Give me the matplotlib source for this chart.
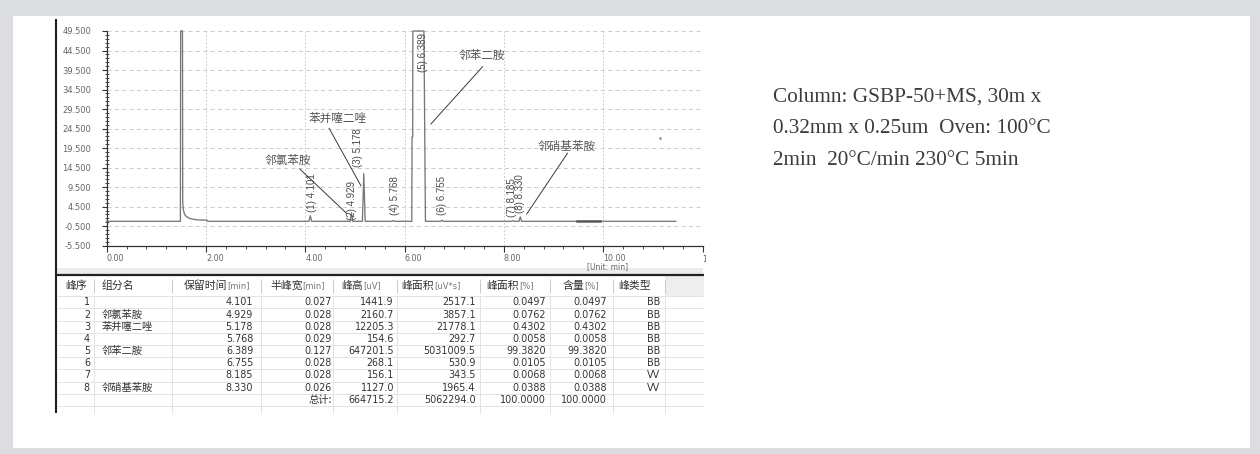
import numpy as np
import matplotlib
matplotlib.use("Agg")
import matplotlib.pyplot as plt
from matplotlib.patches import Rectangle
from matplotlib.ticker import FixedLocator, MultipleLocator, FuncFormatter
from matplotlib.transforms import Bbox

plt.rcParams["lines.scale_dashes"] = False
CJK = ["Noto Sans CJK SC", "DejaVu Sans"]

# ---- integration results ----
peak_no = [1, 2, 3, 4, 5, 6, 7, 8]
component = ["", "邻氯苯胺", "苯并噻二唑", "", "邻苯二胺", "", "", "邻硝基苯胺"]
retention_min = [4.101, 4.929, 5.178, 5.768, 6.389, 6.755, 8.185, 8.330]
half_width_min = [0.027, 0.028, 0.028, 0.029, 0.127, 0.028, 0.028, 0.026]
height_uv = [1441.9, 2160.7, 12205.3, 154.6, 647201.5, 268.1, 156.1, 1127.0]
area_uvs = [2517.1, 3857.1, 21778.1, 292.7, 5031009.5, 530.9, 343.5, 1965.4]
area_pct = [0.0497, 0.0762, 0.4302, 0.0058, 99.3820, 0.0105, 0.0068, 0.0388]
content_pct = [0.0497, 0.0762, 0.4302, 0.0058, 99.3820, 0.0105, 0.0068, 0.0388]
peak_type = ["BB", "BB", "BB", "BB", "BB", "BB", "VV", "VV"]
total_height_uv = 664715.2
total_area_uvs = 5062294.0
total_area_pct = 100.0
total_content_pct = 100.0

# ---- detector trace outside the integrated peaks (min, mV) ----
baseline_mv = 0.75
solvent_time = [0.00, 1.484, 1.489, 1.526, 1.531, 1.545, 1.57, 1.61, 1.67, 1.75, 1.85, 2.02, 2.03, 11.46]
solvent_mv = [0.75, 0.75, 49.5, 49.5, 5.5, 3.6, 2.5, 1.9, 1.5, 1.25, 1.1, 1.05, 0.75, 0.75]
# saturated leading edge of the 邻苯二胺 peak
main_front_time = [6.145, 6.150, 6.163, 6.166]
main_front_mv = [0.0, 21.6, 21.6, 647.2]
main_tail_end = 6.42
noisy_span = [9.47, 9.94]

y_ticks = [-5.5, -0.5, 4.5, 9.5, 14.5, 19.5, 24.5, 29.5, 34.5, 39.5, 44.5, 49.5]
x_ticks = [0, 2, 4, 6, 8, 10, 12]

annotations = [
    ("邻氯苯胺", 2),
    ("苯并噻二唑", 3),
    ("邻苯二胺", 5),
    ("邻硝基苯胺", 8),
]

# ---- figure ----
fig = plt.figure(figsize=(12.6, 4.54), dpi=100)
fig.patch.set_facecolor("#dcdde0")

ov = fig.add_axes([0, 0, 1, 1])
ov.set_xlim(0, 1260)
ov.set_ylim(454, 0)
ov.axis("off")
ov.add_patch(Rectangle((13, 16), 1237, 432, fc="white", ec="none"))

# window frame line on the left
ov.vlines(55.5, 19, 413, color="#1e1e1e", lw=1.5)

# ---- chromatogram axes ----
x0, x1, ytop, ybot = 106.7, 702.5, 31.0, 245.7
ax = fig.add_axes([x0 / 1260, 1 - ybot / 454, (x1 - x0) / 1260, (ybot - ytop) / 454])
ax.set_facecolor("none")
ax.set_xlim(0, 12)
ax.set_ylim(-5.5, 49.5)
for s in ("top", "right"):
    ax.spines[s].set_visible(False)
for s in ("left", "bottom"):
    ax.spines[s].set_color("#333333")
    ax.spines[s].set_linewidth(0.9)

ax.yaxis.set_major_locator(FixedLocator(y_ticks))
ax.yaxis.set_minor_locator(FixedLocator(np.arange(-5.5, 49.6, 1.0)))
ax.yaxis.set_major_formatter(FuncFormatter(lambda v, p: f"{v:.3f}"))
ax.xaxis.set_major_locator(FixedLocator(x_ticks))
ax.xaxis.set_minor_locator(MultipleLocator(0.4))
ax.xaxis.set_major_formatter(FuncFormatter(lambda v, p: "" if v > 11 else f"{v:.2f}"))
ax.tick_params(axis="y", which="major", direction="out", length=3.6, width=0.8,
               color="#333333", pad=7.5, labelsize=6.0, labelcolor="#666666")
ax.tick_params(axis="y", which="minor", direction="inout", length=2.6, width=0.6, color="#333333")
ax.tick_params(axis="x", which="major", direction="out", length=4.2, width=0.8,
               color="#333333", pad=1.5, labelsize=5.8, labelcolor="#666666")
ax.tick_params(axis="x", which="minor", direction="out", length=2.4, width=0.6, color="#333333")
for lab in ax.get_xticklabels():
    lab.set_horizontalalignment("left")

# last axis label is cut by the window edge
clip_lab = ax.text(12, -0.045, "12.00", transform=ax.get_xaxis_transform(), ha="left", va="top",
                   fontsize=5.8, color="#666666")
clip_lab.set_clip_box(Bbox.from_extents(0, 0, 705.5, 454))
clip_lab.set_clip_on(True)

for y in y_ticks[1:]:
    ax.axhline(y, color="#c4c4c4", lw=0.6, ls=(0, (2.9, 2.4)), zorder=0)
for x in x_ticks[1:-1]:
    ax.axvline(x, color="#c4c4c4", lw=0.6, ls=(0, (1.3, 1.3)), zorder=0)

# build the trace: baseline / solvent points plus a triangle for every integrated peak
pts = list(zip(solvent_time, solvent_mv))
for i, rt in enumerate(retention_min):
    h = height_uv[i] / 1000.0
    if i == 4:
        pts += [(t, baseline_mv + v) for t, v in zip(main_front_time[:-1], main_front_mv[:-1])]
        pts += [(main_front_time[-1], baseline_mv + h), (rt, baseline_mv + h), (main_tail_end, baseline_mv)]
    else:
        w = half_width_min[i]
        pts += [(rt - w, baseline_mv), (rt, baseline_mv + h), (rt + w, baseline_mv)]
pts.sort(key=lambda p: p[0])
tt = np.array([p[0] for p in pts])
vv = np.minimum(np.array([p[1] for p in pts]), 49.5)
ax.plot(tt, vv, color="#777777", lw=0.95, clip_on=False, zorder=3)
ax.plot(noisy_span, [baseline_mv, baseline_mv], color="#5a5a5a", lw=1.8, zorder=3)
ax.plot([11.15], [22.0], marker="s", ms=0.9, color="#9a9a9a", lw=0)

# retention-time labels
label_dx = [0.04, 0.02, -0.12, 0.04, -0.01, -0.005, -0.025, 0.0]
label_y = [3.2, 1.1, 14.7, 2.35, 39.1, 2.35, 1.9, 2.9]
for i, rt in enumerate(retention_min):
    ax.text(rt + label_dx[i], label_y[i], f"({peak_no[i]}) {rt:.3f}", rotation=90,
            ha="center", va="bottom", fontsize=7, family="Liberation Sans",
            color="#4a4a4a", zorder=4)

# component name call-outs
callout_xy = [(3.64, 16.45), (4.66, 27.14), (7.55, 43.35), (9.26, 19.86)]
callout_line = [((3.89, 14.15), (4.83, 2.80)), ((4.48, 24.57), (5.12, 9.87)),
                ((7.57, 40.35), (6.53, 25.68)), ((9.28, 18.17), (8.46, 2.62))]
for (name, _), (cx, cy), (p0, p1) in zip(annotations, callout_xy, callout_line):
    ax.text(cx, cy, name, ha="center", va="center", fontsize=8.4, family=CJK, color="#555555")
    ax.plot([p0[0], p1[0]], [p0[1], p1[1]], color="#3a3a3a", lw=0.7, zorder=4)

ov.text(608, 266.5, "[Unit: min]", ha="center", va="center", fontsize=5.5, color="#666666")

# ---- result table ----
ov.add_patch(Rectangle((56.5, 268), 646.5, 6, fc="#ececec", ec="none"))
ov.hlines(275, 55, 703.5, color="#222222", lw=1.6)
ov.add_patch(Rectangle((665, 276), 38.5, 20, fc="#eeeeee", ec="none"))

row_h = 12.2
row0 = 302.3
col_sep = [94.3, 172.3, 261, 333.3, 397, 480, 550, 613.3, 665]
for k in range(10):
    ov.hlines(296.2 + row_h * k, 56.5, 703, color="#e3e3e3", lw=0.7)
ov.vlines(col_sep, 296.2, 413, color="#e3e3e3", lw=0.7)
ov.vlines(col_sep, 279, 293, color="#c9c9c9", lw=0.7)

headers = [("峰序", ""), ("组分名", ""), ("保留时间", "[min]"), ("半峰宽", "[min]"),
           ("峰高", "[uV]"), ("峰面积", "[uV*s]"), ("峰面积", "[%]"), ("含量", "[%]"), ("峰类型", "")]
header_x = [65, 101.7, 183.3, 270, 341.7, 401.7, 486.7, 562.7, 618.3]
for (main, unit), hx in zip(headers, header_x):
    t = ov.text(hx, 285.5, main, ha="left", va="center", fontsize=7.8, family=CJK, color="#333333")
    if unit:
        ov.annotate(unit, xy=(1, 0.5), xycoords=t, ha="left", va="center",
                    fontsize=6.0, family="DejaVu Sans", color="#777777")

num_kw = dict(ha="right", va="center", fontsize=6.9, family="DejaVu Sans", color="#333333")
for i in range(len(peak_no)):
    y = row0 + row_h * i
    ov.text(90, y, str(peak_no[i]), **num_kw)
    if component[i]:
        ov.text(101.7, y, component[i], ha="left", va="center", fontsize=7.4, family=CJK, color="#333333")
    ov.text(253.3, y, f"{retention_min[i]:.3f}", **num_kw)
    ov.text(331.7, y, f"{half_width_min[i]:.3f}", **num_kw)
    ov.text(394, y, f"{height_uv[i]:.1f}", **num_kw)
    ov.text(475.5, y, f"{area_uvs[i]:.1f}", **num_kw)
    ov.text(546, y, f"{area_pct[i]:.4f}", **num_kw)
    ov.text(606.7, y, f"{content_pct[i]:.4f}", **num_kw)
    ov.text(660, y, peak_type[i], **num_kw)
yt = row0 + row_h * 8
ov.text(331.7, yt, "总计:", ha="right", va="center", fontsize=7.4, family=CJK, color="#333333")
ov.text(394, yt, f"{total_height_uv:.1f}", **num_kw)
ov.text(475.5, yt, f"{total_area_uvs:.1f}", **num_kw)
ov.text(546, yt, f"{total_area_pct:.4f}", **num_kw)
ov.text(606.7, yt, f"{total_content_pct:.4f}", **num_kw)

# ---- method conditions ----
cond = ["Column: GSBP-50+MS, 30m x",
        "0.32mm x 0.25um  Oven: 100°C",
        "2min  20°C/min 230°C 5min"]
for k, line in enumerate(cond):
    ov.text(773, 97 + 31.6 * k, line, ha="left", va="center", fontsize=15.3,
            family="Liberation Serif", color="#3c3c3c")

fig.savefig("out.png", dpi=100, facecolor=fig.get_facecolor())
